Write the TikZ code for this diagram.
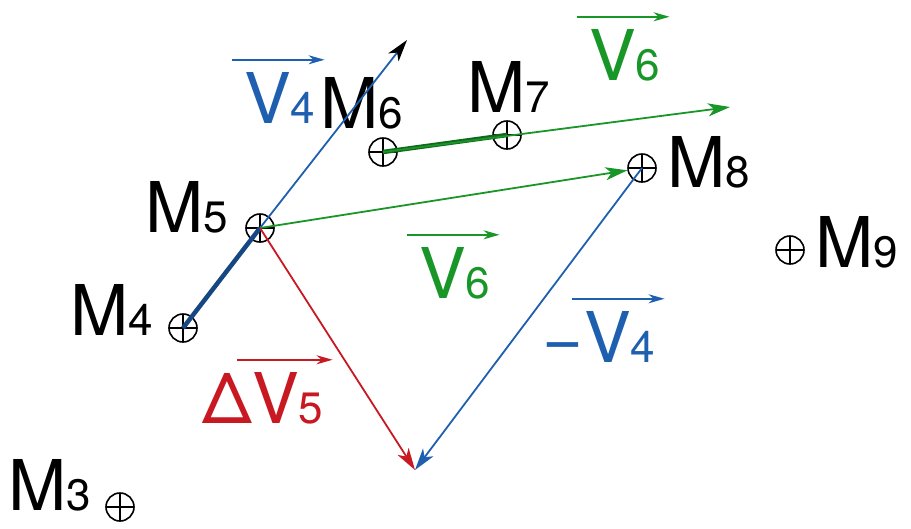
\documentclass[tikz,border=0pt]{standalone}
\usepackage{fontspec}
\setmainfont{TeX Gyre Heros}
\usetikzlibrary{arrows.meta}

\definecolor{vblue}{RGB}{30,95,175}
\definecolor{vgreen}{RGB}{25,150,40}
\definecolor{vred}{RGB}{200,25,35}

% indice pequeno en la misma linea base
\newcommand{\ind}[1]{{\fontsize{44}{44}\selectfont #1}}

\begin{document}
\begin{tikzpicture}[x=1pt,y=-1pt,
    masa/.style={draw, circle, line width=1.6pt, minimum size=28pt, inner sep=0pt,
      path picture={\draw[line width=1.2pt]
        (path picture bounding box.north) -- (path picture bounding box.south)
        (path picture bounding box.west) -- (path picture bounding box.east);}},
    etiq/.style={anchor=base west, inner sep=0pt, font=\fontsize{70}{70}\selectfont},
    vec/.style={line width=1.8pt, -{Stealth[length=22pt,width=13pt,inset=6pt]}},
    flecha/.style={line width=1.6pt, -{Stealth[length=16pt,width=9pt,inset=5pt]}},
    grueso/.style={line width=4.5pt}]
    \useasboundingbox (0,0) rectangle (911,528);

    % masas
    \node[masa] (m3) at (120,507) {};
    \node[masa] (m4) at (183,328) {};
    \node[masa] (m5) at (260,228) {};
    \node[masa] (m6) at (383,152) {};
    \node[masa] (m7) at (507,135) {};
    \node[masa] (m8) at (642,168) {};
    \node[masa] (m9) at (790,250) {};

    % puntas libres
    \coordinate (fin)  at (415,470);
    \coordinate (tip4) at (407,40);
    \coordinate (tip6) at (730,107);

    % nombres de las masas
    \node[etiq] (lm3) at (8,510)   {M\ind{3}};
    \node[etiq] (lm4) at (70,335)  {M\ind{4}};
    \node[etiq] (lm5) at (145,232) {M\ind{5}};
    \node[etiq] (lm6) at (320,128) {M\ind{6}};
    \node[etiq] (lm7) at (467,112) {M\ind{7}};
    \node[etiq] (lm8) at (667,187) {M\ind{8}};
    \node[etiq] (lm9) at (815,267) {M\ind{9}};

    % V4: tramo grueso M4-M5 y prolongacion
    \draw[vblue!75!black, grueso] (m4.center) -- (m5.center);
    \draw[vblue, line width=1.8pt, -{Stealth[length=22pt,width=13pt,inset=6pt,color=black]}]
        (m5.center) -- (tip4);

    % V6: tramo grueso M6-M7 y prolongacion
    \draw[vgreen!70!black, grueso] (m6.center) -- (m7.center);
    \draw[vgreen, vec] (m6.center) -- (tip6);

    % V6 trasladado a M5
    \draw[vgreen, vec] (m5.center) -- (m8);

    % Delta V5 y -V4
    \draw[vred, vec] (m5.center) -- (fin);
    \draw[vblue, vec] (m8.center) -- (fin);

    % etiquetas de los vectores
    \node[etiq, text=vblue] (lv4) at (244,123) {V\ind{4}};
    \draw[vblue, flecha] ([xshift=-12pt,yshift=12pt]lv4.north west)
        -- ([xshift=9pt,yshift=12pt]lv4.north east);

    \node[etiq, text=vgreen] (lv6a) at (589,80) {V\ind{6}};
    \draw[vgreen, flecha] ([xshift=-12pt,yshift=12pt]lv6a.north west)
        -- ([xshift=9pt,yshift=12pt]lv6a.north east);

    \node[etiq, text=vgreen] (lv6b) at (419,298) {V\ind{6}};
    \draw[vgreen, flecha] ([xshift=-12pt,yshift=12pt]lv6b.north west)
        -- ([xshift=9pt,yshift=12pt]lv6b.north east);

    \node[etiq, text=vblue] (lv4b) at (584,362) {V\ind{4}};
    \node[etiq, text=vblue, anchor=base east] (menos) at (lv4b.base west) {−};
    \draw[vblue, flecha] ([xshift=-12pt,yshift=12pt]lv4b.north west)
        -- ([xshift=9pt,yshift=12pt]lv4b.north east);

    \node[etiq, text=vred] (lv5) at (252,423) {V\ind{5}};
    \node[etiq, text=vred, anchor=base east] (delta) at (lv5.base west) {Δ};
    \draw[vred, flecha] ([xshift=-15pt,yshift=12pt]lv5.north west)
        -- ([xshift=9pt,yshift=12pt]lv5.north east);
\end{tikzpicture}
\end{document}
